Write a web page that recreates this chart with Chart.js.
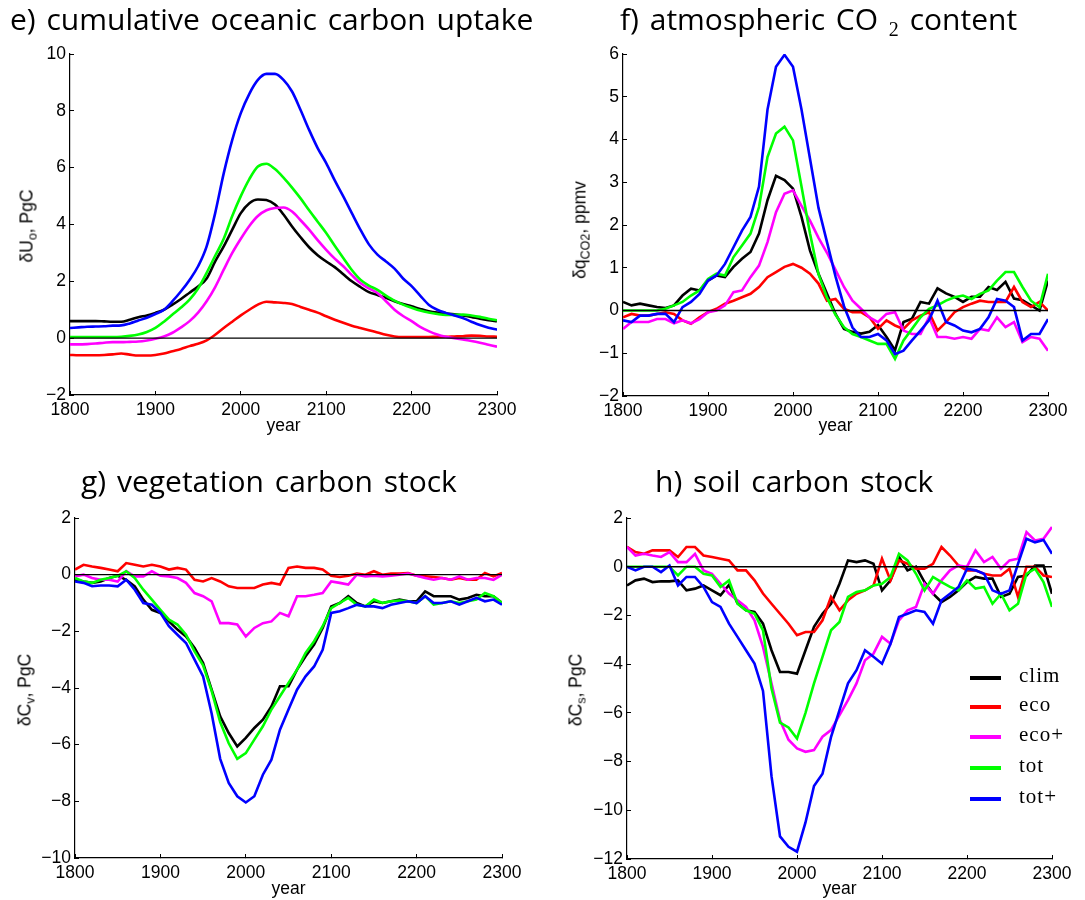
<!DOCTYPE html>
<html>
<head>
<meta charset="utf-8">
<title>Carbon anomalies</title>
<script src="https://cdn.jsdelivr.net/npm/chart.js"></script>
<style>
  body { margin: 0; background: #fff; }
  #page { position: relative; width: 1085px; height: 900px; overflow: hidden; font-family: "Liberation Sans", Arial, sans-serif; color: #000; }
  canvas { position: absolute; }
  .title { position: absolute; font-family: "Open Sans", sans-serif; font-size: 30px; line-height: 1; white-space: nowrap; word-spacing: 3px; }
  .ylab { position: absolute; font-size: 17.5px; white-space: nowrap; transform: translate(-50%, -50%) rotate(-90deg); }
  .ylab sub { font-size: 12.5px; vertical-align: -4px; }
  .leg { position: absolute; left: 970px; width: 31px; height: 4px; }
  .legt { position: absolute; left: 1019px; font-family: "Liberation Serif", serif; font-size: 21px; letter-spacing: 1px; line-height: 1; }
</style>
</head>
<body>
<div id="page">
  <canvas id="cE" width="540" height="450" style="left:0;top:0"></canvas>
  <canvas id="cF" width="545" height="450" style="left:540px;top:0"></canvas>
  <canvas id="cG" width="540" height="450" style="left:0;top:450px"></canvas>
  <canvas id="cH" width="545" height="450" style="left:540px;top:450px"></canvas>

  <div class="title" style="left:10px;top:4px">e) cumulative oceanic carbon uptake</div>
  <div class="title" style="left:620px;top:4px">f) atmospheric CO <span style="font-family:'Liberation Serif',serif;font-size:20px;position:relative;top:6px">2</span> content</div>
  <div class="title" style="left:81px;top:466px">g) vegetation carbon stock</div>
  <div class="title" style="left:655px;top:466px">h) soil carbon stock</div>

  <div class="ylab" style="left:28px;top:226px">&delta;U<sub>o</sub>, PgC</div>
  <div class="ylab" style="left:581px;top:230px">&delta;q<sub>CO2</sub>, ppmv</div>
  <div class="ylab" style="left:26px;top:690px">&delta;C<sub>v</sub>, PgC</div>
  <div class="ylab" style="left:577px;top:690px">&delta;C<sub>s</sub>, PgC</div>

  <div id="legend"></div>
</div>

<script>
// shared x values
const years = [1800,1810,1820,1830,1840,1850,1860,1870,1880,1890,
               1900,1910,1920,1930,1940,1950,1960,1970,1980,1990,
               2000,2010,2020,2030,2040,2050,2060,2070,2080,2090,
               2100,2110,2120,2130,2140,2150,2160,2170,2180,2190,
               2200,2210,2220,2230,2240,2250,2260,2270,2280,2290,2300];

const seriesNames = ["clim", "eco", "eco+", "tot", "tot+"];
const seriesColors = ["#000000", "#ff0000", "#ff00ff", "#00ff00", "#0000ff"];

// e) cumulative oceanic carbon uptake, PgC
const uptakeClim = [0.6,0.6,0.6,0.6,0.59,0.58,0.58,0.65,0.74,0.8,0.89,1.0,1.18,1.38,1.6,1.82,2.1,2.7,3.23,3.82,4.4,4.75,4.88,4.86,4.7,4.35,3.93,3.55,3.2,2.92,2.7,2.5,2.25,2.0,1.8,1.62,1.52,1.42,1.3,1.2,1.12,1.03,0.95,0.9,0.87,0.84,0.8,0.75,0.68,0.63,0.6];
const uptakeEco = [-0.59,-0.6,-0.6,-0.6,-0.59,-0.57,-0.54,-0.58,-0.61,-0.61,-0.59,-0.54,-0.46,-0.38,-0.28,-0.2,-0.08,0.12,0.36,0.58,0.8,1.0,1.18,1.28,1.26,1.24,1.2,1.1,1.0,0.9,0.77,0.65,0.54,0.44,0.36,0.28,0.2,0.12,0.06,0.04,0.04,0.04,0.04,0.05,0.05,0.06,0.07,0.09,0.08,0.06,0.05];
const uptakeEcoPlus = [-0.22,-0.22,-0.21,-0.19,-0.16,-0.14,-0.14,-0.13,-0.12,-0.08,-0.02,0.06,0.19,0.38,0.6,0.9,1.3,1.8,2.41,3.0,3.5,3.95,4.3,4.5,4.58,4.6,4.46,4.15,3.82,3.45,3.11,2.8,2.53,2.22,1.94,1.75,1.59,1.3,1.0,0.78,0.6,0.4,0.25,0.13,0.05,0.0,-0.05,-0.1,-0.16,-0.23,-0.3];
const uptakeTot = [0.04,0.04,0.04,0.04,0.04,0.04,0.05,0.08,0.13,0.22,0.36,0.58,0.83,1.08,1.36,1.75,2.3,2.9,3.5,4.3,5.0,5.6,6.04,6.14,5.95,5.65,5.3,4.92,4.5,4.1,3.7,3.25,2.82,2.4,2.06,1.85,1.7,1.5,1.32,1.18,1.07,0.97,0.9,0.85,0.82,0.82,0.83,0.8,0.75,0.68,0.63];
const uptakeTotPlus = [0.36,0.38,0.4,0.41,0.42,0.44,0.45,0.52,0.62,0.72,0.85,1.0,1.3,1.65,2.05,2.53,3.23,4.4,5.8,6.98,7.92,8.6,9.09,9.3,9.3,9.09,8.68,8.03,7.33,6.69,6.16,5.55,4.99,4.4,3.82,3.3,2.94,2.7,2.45,2.1,1.83,1.5,1.18,1.0,0.89,0.8,0.71,0.58,0.46,0.37,0.3];

// f) atmospheric CO2 content, ppmv
const co2Clim = [0.2,0.12,0.16,0.12,0.08,0.06,0.12,0.35,0.51,0.47,0.7,0.82,0.78,1.02,1.21,1.37,1.8,2.58,3.15,3.05,2.85,2.19,1.4,0.86,0.39,-0.08,-0.43,-0.5,-0.54,-0.5,-0.34,-0.62,-0.93,-0.27,-0.19,0.2,0.16,0.52,0.4,0.32,0.2,0.32,0.32,0.55,0.48,0.67,0.28,0.24,0.12,0.0,0.7];
const co2Eco = [-0.16,-0.08,-0.12,-0.12,-0.08,-0.04,-0.08,-0.23,-0.31,-0.16,-0.04,0.04,0.16,0.23,0.31,0.39,0.55,0.78,0.9,1.02,1.09,1.0,0.86,0.63,0.23,0.27,0.04,-0.04,-0.04,-0.16,-0.43,-0.23,-0.35,-0.43,-0.23,-0.12,-0.04,-0.47,-0.27,-0.04,0.08,0.16,0.23,0.2,0.2,0.2,0.55,0.2,0.08,0.2,0.0];
const co2EcoPlus = [-0.43,-0.27,-0.27,-0.27,-0.2,-0.2,-0.3,-0.23,-0.3,-0.2,-0.04,0.0,0.12,0.43,0.47,0.78,1.05,1.6,2.3,2.73,2.81,2.45,2.1,1.7,1.35,0.95,0.55,0.23,0.04,-0.16,-0.27,-0.08,-0.04,-0.47,-0.55,-0.55,-0.16,-0.62,-0.62,-0.66,-0.62,-0.66,-0.43,-0.47,-0.16,-0.39,-0.27,-0.74,-0.62,-0.66,-0.94];
const co2Tot = [0.0,0.0,0.0,0.0,0.0,0.04,0.12,0.2,0.35,0.47,0.74,0.86,0.82,1.25,1.52,1.8,2.42,3.59,4.14,4.3,3.98,2.9,1.8,0.85,0.3,-0.1,-0.39,-0.55,-0.62,-0.7,-0.78,-0.78,-1.13,-0.7,-0.43,-0.16,0.04,0.12,0.23,0.31,0.35,0.27,0.39,0.47,0.7,0.9,0.9,0.55,0.23,0.08,0.86];
const co2TotPlus = [-0.23,-0.27,-0.12,-0.12,-0.08,-0.08,-0.27,0.08,0.2,0.39,0.7,0.82,1.09,1.48,1.87,2.19,2.9,4.7,5.7,5.98,5.7,4.7,3.55,2.4,1.6,0.8,0.1,-0.4,-0.62,-0.62,-0.55,-0.7,-1.02,-0.94,-0.7,-0.47,-0.23,0.23,-0.27,-0.35,-0.47,-0.51,-0.43,-0.16,0.27,0.23,0.08,-0.7,-0.55,-0.55,-0.2];

// g) vegetation carbon stock, PgC
const vegClim = [-0.18,-0.24,-0.29,-0.24,-0.12,-0.04,-0.18,-0.41,-0.88,-1.24,-1.35,-1.65,-1.94,-2.18,-2.59,-3.12,-4.06,-5.0,-5.59,-6.06,-5.76,-5.41,-5.12,-4.65,-3.94,-3.94,-3.35,-2.88,-2.47,-1.88,-1.12,-1.0,-0.76,-1.0,-1.12,-0.94,-1.0,-0.94,-0.88,-0.94,-0.94,-0.59,-0.76,-0.76,-0.76,-0.88,-0.82,-0.71,-0.76,-0.76,-1.0];
const vegEco = [0.18,0.35,0.29,0.24,0.18,0.12,0.41,0.35,0.29,0.35,0.29,0.18,0.24,0.18,-0.18,-0.24,-0.12,-0.24,-0.41,-0.47,-0.47,-0.47,-0.35,-0.29,-0.35,0.24,0.29,0.24,0.24,0.18,-0.04,-0.08,-0.04,0.04,0.0,0.12,0.0,0.04,0.04,0.06,-0.04,-0.06,-0.08,-0.12,-0.18,-0.12,-0.18,-0.18,0.06,-0.06,0.06];
const vegEcoPlus = [-0.06,0.0,-0.12,-0.18,-0.18,-0.24,0.12,-0.06,-0.06,0.12,-0.04,-0.06,-0.12,-0.29,-0.65,-0.76,-0.94,-1.71,-1.71,-1.76,-2.18,-1.88,-1.71,-1.65,-1.35,-1.47,-0.76,-0.76,-0.71,-0.65,-0.24,-0.29,-0.35,0.0,-0.06,-0.04,-0.06,-0.04,0.0,0.04,-0.04,-0.12,-0.18,-0.12,-0.18,-0.06,-0.18,-0.12,-0.12,-0.18,0.0];
const vegTot = [-0.12,-0.24,-0.29,-0.18,-0.12,-0.04,0.12,-0.12,-0.53,-0.88,-1.24,-1.59,-1.76,-2.12,-2.71,-3.2,-4.1,-5.2,-5.95,-6.5,-6.3,-5.82,-5.35,-4.76,-4.29,-3.82,-3.35,-2.76,-2.35,-1.82,-1.18,-1.0,-0.82,-1.06,-1.12,-0.88,-1.0,-0.94,-0.91,-0.94,-1.0,-0.76,-1.06,-1.0,-0.94,-1.0,-0.94,-0.88,-0.65,-0.76,-1.0];
const vegTotPlus = [-0.24,-0.29,-0.41,-0.38,-0.38,-0.41,-0.18,-0.53,-1.0,-1.06,-1.35,-1.82,-2.12,-2.41,-3.0,-3.59,-4.9,-6.5,-7.35,-7.82,-8.04,-7.82,-7.06,-6.53,-5.47,-4.76,-4.06,-3.59,-3.24,-2.65,-1.35,-1.29,-1.18,-1.06,-1.12,-1.12,-1.18,-1.06,-1.0,-0.94,-1.0,-0.76,-1.0,-1.0,-0.94,-1.06,-0.94,-0.82,-0.94,-0.88,-1.06];

// h) soil carbon stock, PgC
const soilClim = [-0.77,-0.56,-0.49,-0.63,-0.6,-0.6,-0.56,-0.97,-0.9,-0.77,-0.97,-1.17,-0.75,-1.5,-1.79,-1.86,-2.34,-3.43,-4.32,-4.32,-4.39,-3.43,-2.47,-1.93,-1.52,-0.7,0.26,0.19,0.26,0.12,-0.97,-0.56,0.4,-0.15,0.0,-0.63,-1.11,-1.45,-1.24,-0.97,-0.63,-0.42,-0.49,-0.49,-1.24,-1.11,-0.42,-0.36,0.05,0.05,-1.11];
const soilEco = [0.81,0.6,0.53,0.67,0.67,0.67,0.4,0.81,0.81,0.46,0.4,0.33,0.26,-0.15,-0.15,-0.56,-1.1,-1.52,-1.93,-2.34,-2.81,-2.68,-2.68,-2.2,-1.24,-1.79,-1.38,-1.11,-0.97,-0.77,0.33,-0.56,0.26,0.12,-0.08,-0.08,0.12,0.81,0.46,0.05,-0.15,-0.15,-0.29,-0.36,-0.36,-0.08,-1.24,0.0,0.0,-0.36,-0.42];
const soilEcoPlus = [0.81,0.46,0.53,0.46,0.4,0.6,0.19,0.19,0.53,-0.15,-0.29,-0.7,-1.1,-1.38,-1.65,-2.2,-3.29,-4.79,-6.3,-7.1,-7.46,-7.6,-7.53,-6.98,-6.71,-6.09,-5.48,-4.79,-3.84,-3.57,-2.88,-3.16,-2.2,-1.79,-1.65,-0.7,-1.11,-0.56,-0.15,0.05,0.0,0.67,0.19,0.4,-0.08,0.26,0.33,1.42,1.08,1.15,1.63];
const soilTot = [0.0,0.0,0.0,0.0,0.0,0.0,-0.36,0.0,0.0,-0.29,-0.36,-0.83,-0.56,-1.52,-1.79,-1.93,-2.61,-5.0,-6.4,-6.6,-7.05,-6.0,-4.79,-3.7,-2.61,-2.27,-1.24,-1.04,-0.97,-0.77,-0.7,-0.42,0.53,0.26,-0.29,-0.97,-0.42,-0.63,-0.83,-0.97,-0.56,-0.9,-0.83,-1.52,-1.11,-1.79,-1.52,-0.29,-0.08,-0.63,-1.65];
const soilTotPlus = [0.0,-0.15,0.0,0.0,-0.22,0.05,-0.77,-0.42,-0.42,-0.83,-1.45,-1.65,-2.34,-2.88,-3.43,-3.98,-5.1,-8.6,-11.07,-11.5,-11.7,-10.5,-9.0,-8.5,-7.0,-5.89,-4.79,-4.25,-3.43,-3.7,-3.98,-3.16,-2.06,-1.93,-1.79,-1.86,-2.34,-1.38,-1.11,-0.83,-0.08,-0.15,-0.29,-0.97,-1.11,-0.97,0.12,1.15,1.0,1.1,0.53];

const panels = [
  { id: "cE", series: [uptakeClim, uptakeEco, uptakeEcoPlus, uptakeTot, uptakeTotPlus],
    yMin: -2, yMax: 10, yStep: 2, smooth: true,
    area: { left: 70, right: 497, top: 54, bottom: 395 }, yearPad: 13 },
  { id: "cF", series: [co2Clim, co2Eco, co2EcoPlus, co2Tot, co2TotPlus],
    yMin: -2, yMax: 6, yStep: 1, smooth: false,
    area: { left: 83, right: 508, top: 54, bottom: 396 }, yearPad: 13 },
  { id: "cG", series: [vegClim, vegEco, vegEcoPlus, vegTot, vegTotPlus],
    yMin: -10, yMax: 2, yStep: 2, smooth: false,
    area: { left: 75, right: 502, top: 68, bottom: 408 }, yearPad: 0 },
  { id: "cH", series: [soilClim, soilEco, soilEcoPlus, soilTot, soilTotPlus],
    yMin: -12, yMax: 2, yStep: 2, smooth: false,
    area: { left: 87, right: 512, top: 68, bottom: 409 }, yearPad: 0 }
];

const tickFont = { family: "'Liberation Sans', Arial, sans-serif", size: 17.5 };

function fmt(v) {
  return v < 0 ? "\u2212" + Math.abs(v) : String(v);
}

function toPoints(vals) {
  return years.map((yr, i) => ({ x: yr, y: vals[i] }));
}

panels.forEach(p => {
  const canvas = document.getElementById(p.id);
  const w = canvas.width, h = canvas.height, a = p.area;

  const datasets = p.series.map((vals, i) => ({
    label: seriesNames[i],
    data: toPoints(vals),
    borderColor: seriesColors[i],
    borderWidth: 2.6,
    pointRadius: 0,
    tension: p.smooth ? 0.4 : 0,
    cubicInterpolationMode: p.smooth ? "monotone" : "default",
    order: 5 - i
  }));
  // zero reference line
  datasets.push({
    label: "zero",
    data: [{ x: 1800, y: 0 }, { x: 2300, y: 0 }],
    borderColor: "#000",
    borderWidth: 1.4,
    pointRadius: 0,
    order: 0
  });

  new Chart(canvas.getContext("2d"), {
    type: "line",
    data: { datasets: datasets },
    options: {
      responsive: false,
      animation: false,
      layout: { padding: { left: 0, top: a.top, right: w - a.right, bottom: 0 } },
      plugins: { legend: { display: false }, tooltip: { enabled: false } },
      scales: {
        x: {
          type: "linear", min: 1800, max: 2300,
          ticks: { stepSize: 100, autoSkip: false, maxRotation: 0, color: "#000", font: tickFont, padding: 9, callback: v => String(v) },
          grid: { drawOnChartArea: false, tickLength: -4, color: "#000", lineWidth: 1 },
          border: { color: "#000", width: 1.2 },
          title: { display: true, text: "year", color: "#000", font: tickFont, padding: { top: 0, bottom: p.yearPad } },
          afterFit: s => { s.height = h - a.bottom; }
        },
        y: {
          type: "linear", min: p.yMin, max: p.yMax,
          ticks: { stepSize: p.yStep, autoSkip: false, color: "#000", font: tickFont, padding: 8, callback: v => fmt(v) },
          grid: { drawOnChartArea: false, tickLength: -4, color: "#000", lineWidth: 1 },
          border: { color: "#000", width: 1.2 },
          afterFit: s => { s.width = a.left; }
        }
      }
    }
  });
});

// legend of panel h
const legendTops = [678, 707, 737, 768, 799];
const legend = document.getElementById("legend");
seriesNames.forEach((name, i) => {
  const line = document.createElement("div");
  line.className = "leg";
  line.style.top = (legendTops[i] - 2) + "px";
  line.style.background = seriesColors[i];
  legend.appendChild(line);
  const txt = document.createElement("div");
  txt.className = "legt";
  txt.style.top = (legendTops[i] - 13) + "px";
  txt.textContent = name;
  legend.appendChild(txt);
});
</script>
</body>
</html>
